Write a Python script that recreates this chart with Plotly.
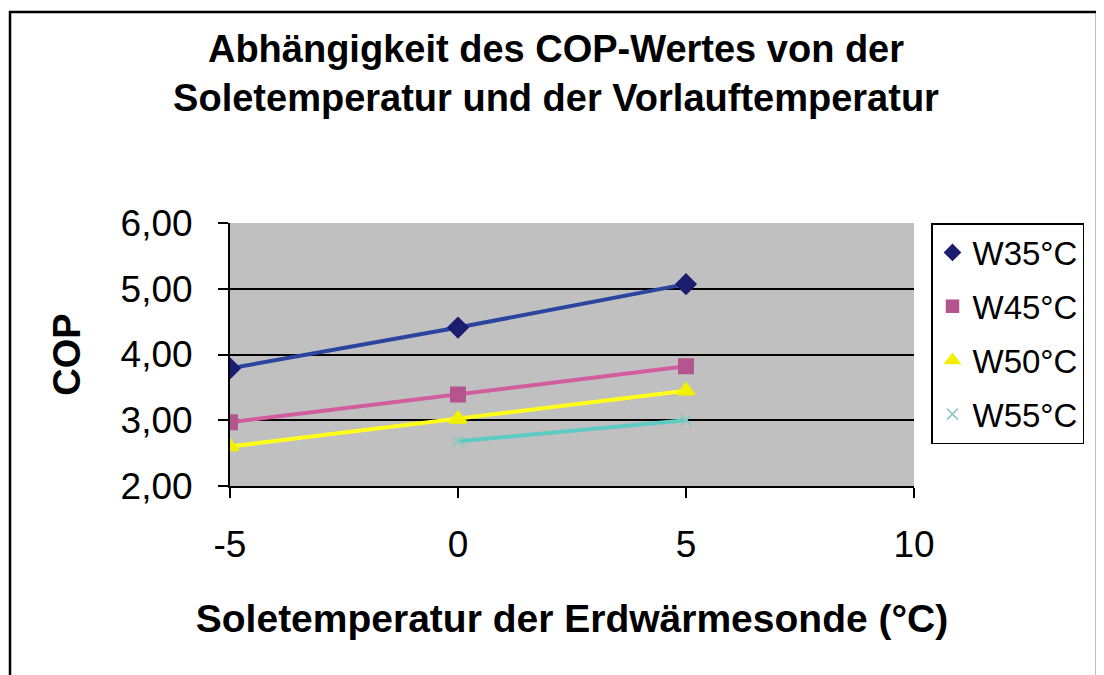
import plotly.graph_objects as go

# Soletemperatur (°C)
sole = [-5, 0, 5]

# COP je Vorlauftemperatur
cop_w35 = [3.79, 4.41, 5.07]
cop_w45 = [2.97, 3.39, 3.82]
cop_w50 = [2.60, 3.02, 3.45]
cop_w55 = [None, 2.68, 3.00]

namen = ['W35°C', 'W45°C', 'W50°C', 'W55°C']
y_ticks = [2, 3, 4, 5, 6]
x_ticks = [-5, 0, 5, 10]
x_labels = ['-5', '0', '5', '10']

# die Seite hat 8px Rand, also Figur etwas kleiner
OFF = 8
W, H = 1104 - OFF, 675 - OFF
L, R, T, B = 230 - OFF, 190, 223 - OFF, 189
pw, ph = W - L - R, H - T - B


def px_x(px):
    return (px - OFF - L) / pw


def px_y(py):
    return (H - B - (py - OFF)) / ph


serien = [
    (namen[0], cop_w35, '#2a44a0', '#1c1c70', 'diamond', 15, 12),
    (namen[1], cop_w45, '#d15d9e', '#b4558f', 'square', 14, 12),
    (namen[2], cop_w50, '#ffff1a', '#f0f000', 'triangle-up', 15, 13),
    (namen[3], cop_w55, '#5ecbc2', '#8cc8c0', 'x-thin', 11, 11),
]

fig = go.Figure()
for i, (name, werte, farbe, mfarbe, symbol, size, lsize) in enumerate(serien):
    fig.add_trace(go.Scatter(
        x=sole, y=werte, name=name, mode='lines+markers',
        line=dict(color=farbe, width=4),
        marker=dict(symbol=symbol, size=size, color=mfarbe,
                    line=dict(color=mfarbe, width=2)),
        showlegend=False, connectgaps=False,
    ))
    # nur Symbol in der Legende (wie Excel)
    fig.add_trace(go.Scatter(
        x=[None], y=[None], name=name, mode='markers',
        marker=dict(symbol=symbol, size=lsize, color=mfarbe,
                    line=dict(color=mfarbe, width=1.5)),
        legendgroup=str(i),
    ))

fig.update_layout(
    width=W, height=H,
    margin=dict(l=L, r=R, t=T, b=B),
    paper_bgcolor='white',
    plot_bgcolor='#c0c0c0',
    separators=',.',
    font=dict(family='Liberation Sans, Arial, sans-serif', color='black'),
    title=dict(
        text='<b>Abhängigkeit des COP-Wertes von der<br>Soletemperatur und der Vorlauftemperatur</b>',
        x=px_x(556), xref='paper', xanchor='center',
        y=1 - (62 - OFF) / H, yanchor='middle',
        font=dict(size=38),
    ),
    showlegend=True,
    legend=dict(
        x=px_x(931), y=px_y(223), xanchor='left', yanchor='top',
        bgcolor='white', bordercolor='black', borderwidth=1.5,
        font=dict(size=33),
        traceorder='grouped', tracegroupgap=8,
        itemwidth=30,
    ),
    xaxis=dict(
        range=[-5, 10], tickvals=x_ticks, ticktext=x_labels,
        showgrid=False, zeroline=False,
        showline=True, linecolor='black', linewidth=2,
        ticks='outside', ticklen=10, tickwidth=2, tickcolor='black',
        tickfont=dict(size=37), ticklabelstandoff=15,
        title=dict(text='<b>Soletemperatur der Erdwärmesonde (°C)</b>',
                   font=dict(size=39), standoff=40),
    ),
    yaxis=dict(
        range=[2, 6], tickvals=y_ticks, tickformat='.2f',
        showgrid=True, gridcolor='black', gridwidth=2, zeroline=False,
        showline=True, linecolor='black', linewidth=2,
        ticks='outside', ticklen=10, tickwidth=2, tickcolor='black',
        tickfont=dict(size=37), ticklabelstandoff=18,
        title=dict(text='<b>COP</b>', font=dict(size=38), standoff=28),
    ),
    shapes=[dict(
        type='rect', xref='paper', yref='paper',
        x0=px_x(10), x1=px_x(1097), y0=px_y(720), y1=px_y(12),
        line=dict(color='black', width=2.5), layer='below',
    )],
)

fig.write_html('out.html')
